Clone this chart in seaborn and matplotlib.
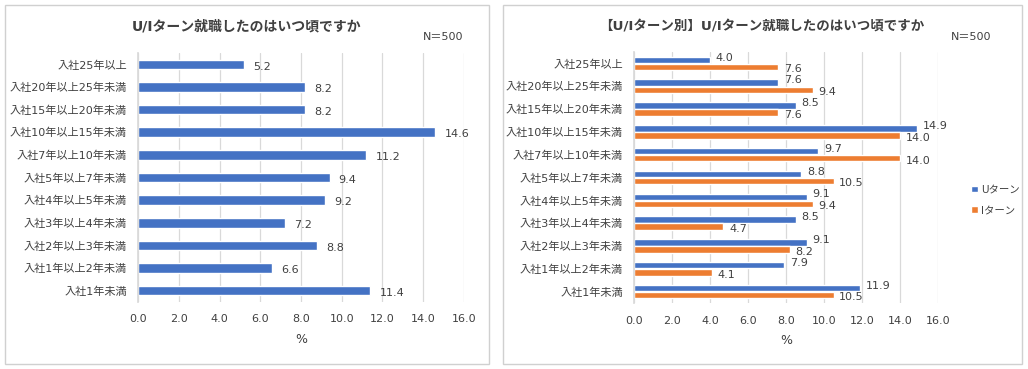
import matplotlib
matplotlib.use("Agg")
import matplotlib.pyplot as plt
import matplotlib.patches as mpatches
import pandas as pd
import seaborn as sns

# categories, top to bottom
categories = ["入社25年以上", "入社20年以上25年未満", "入社15年以上20年未満", "入社10年以上15年未満",
              "入社7年以上10年未満", "入社5年以上7年未満", "入社4年以上5年未満", "入社3年以上4年未満",
              "入社2年以上3年未満", "入社1年以上2年未満", "入社1年未満"]
total = [5.2, 8.2, 8.2, 14.6, 11.2, 9.4, 9.2, 7.2, 8.8, 6.6, 11.4]
u_turn = [4.0, 7.6, 8.5, 14.9, 9.7, 8.8, 9.1, 8.5, 9.1, 7.9, 11.9]
i_turn = [7.6, 9.4, 7.6, 14.0, 14.0, 10.5, 9.4, 4.7, 8.2, 4.1, 10.5]
groups = ["Uターン", "Iターン"]
xticks = [0, 2, 4, 6, 8, 10, 12, 14, 16]

sns.set_theme(style="white")
plt.rcParams["font.family"] = ["DejaVu Sans", "Noto Sans CJK JP"]

blue = "#4472C4"
orange = "#ED7D31"
txt = "#404040"
W, H = 1028, 369

fig = plt.figure(figsize=(W / 100, H / 100), dpi=100)


def fx(px):
    return px / W


def fy(py):
    return 1 - py / H


# panel borders
for x0, x1 in [(5, 489), (503, 1022)]:
    fig.patches.append(mpatches.Rectangle((fx(x0), fy(364)), fx(x1 - x0), (364 - 5) / H,
                                          transform=fig.transFigure, fill=False,
                                          edgecolor="#D0D0D0", linewidth=1))


def style_axis(ax):
    ax.set_xlim(0, 16)
    ax.set_xticks(xticks)
    ax.set_xticklabels([f"{v:.1f}" for v in xticks], fontsize=8, color=txt)
    ax.tick_params(axis="y", labelsize=8, colors=txt, length=0, pad=8)
    ax.tick_params(axis="x", length=0, pad=9)
    ax.xaxis.grid(True, color="#D9D9D9", linewidth=0.9)
    ax.yaxis.grid(False)
    for s in ["top", "right", "bottom"]:
        ax.spines[s].set_visible(False)
    ax.spines["left"].set_color("#D9D9D9")
    ax.set_ylabel("")
    ax.set_xlabel("%", fontsize=9, color=txt, labelpad=6)


# left chart
df1 = pd.DataFrame({"category": categories, "value": total})
ax1 = fig.add_axes([fx(138), fy(302), fx(464 - 138), (302 - 53) / H])
sns.barplot(data=df1, y="category", x="value", order=categories, color=blue,
            width=0.42, saturation=1, ax=ax1)
style_axis(ax1)
for p, v in zip(ax1.patches, total):
    ax1.text(p.get_width() + 0.45, p.get_y() + p.get_height() / 2 + 0.1, f"{v:.1f}",
             va="center", ha="left", fontsize=8, color=txt)
fig.text(fx(247), fy(27), "U/Iターン就職したのはいつ頃ですか", ha="center", va="center",
         fontsize=10, fontweight="bold", color=txt)
fig.text(fx(443), fy(37), "N＝500", ha="center", va="center", fontsize=8, color=txt)

# right chart
df2 = pd.DataFrame({
    "category": categories * 2,
    "value": u_turn + i_turn,
    "group": [groups[0]] * len(categories) + [groups[1]] * len(categories),
})
ax2 = fig.add_axes([fx(634), fy(303), fx(938 - 634), (303 - 52) / H])
sns.barplot(data=df2, y="category", x="value", hue="group", order=categories,
            hue_order=groups, palette=[blue, orange], width=0.62, saturation=1,
            gap=0.08, ax=ax2)
style_axis(ax2)
for cont, vals, dy in zip(ax2.containers, [u_turn, i_turn], [-0.1, 0.1]):
    for p, v in zip(cont.patches, vals):
        ax2.text(p.get_width() + 0.3, p.get_y() + p.get_height() / 2 + dy, f"{v:.1f}",
                 va="center", ha="left", fontsize=8, color=txt)
handles, labels = ax2.get_legend_handles_labels()
ax2.legend(handles, labels, loc="center left", bbox_to_anchor=(fx(962), fy(200)),
           bbox_transform=fig.transFigure, frameon=False, fontsize=7.5, handlelength=0.6,
           handleheight=0.6, handletextpad=0.3, labelspacing=1.0, labelcolor=txt)
fig.text(fx(762), fy(27), "【U/Iターン別】U/Iターン就職したのはいつ頃ですか", ha="center",
         va="center", fontsize=9.7, fontweight="bold", color=txt)
fig.text(fx(971), fy(37), "N＝500", ha="center", va="center", fontsize=8, color=txt)

fig.savefig("out.png", dpi=100)
